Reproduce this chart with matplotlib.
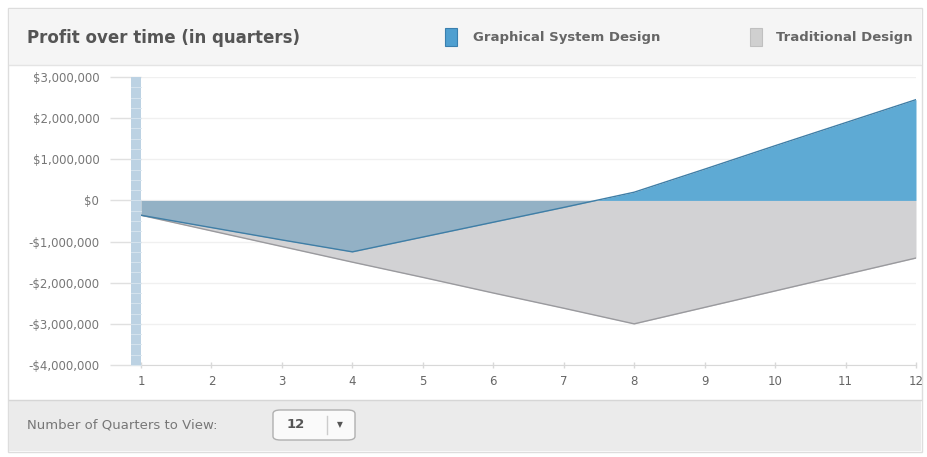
import numpy as np
import matplotlib.pyplot as plt
from matplotlib.patches import Rectangle, FancyBboxPatch

# data (dollars, per quarter)
quarters = [1, 2, 3, 4, 5, 6, 7, 8, 9, 10, 11, 12]
graphical = [-0.36e6, -0.66e6, -0.96e6, -1.25e6, -0.89e6, -0.53e6, -0.17e6,
             0.2e6, 0.76e6, 1.33e6, 1.89e6, 2.45e6]
traditional = [-0.36e6, -0.74e6, -1.12e6, -1.5e6, -1.87e6, -2.25e6, -2.62e6,
               -3.0e6, -2.6e6, -2.2e6, -1.8e6, -1.4e6]
y_ticks = [3e6, 2e6, 1e6, 0, -1e6, -2e6, -3e6, -4e6]
series_names = ["Graphical System Design", "Traditional Design"]
title = "Profit over time (in quarters)"

W, H = 927, 457


def fx(px):
    return px / W


def fy(py):
    return 1 - py / H


def money(v):
    s = "${:,.0f}".format(abs(v))
    return "-" + s if v < 0 else s


def main():
    fig = plt.figure(figsize=(W / 100, H / 100), dpi=100)
    fig.patch.set_facecolor("white")

    # outer frame, header and footer panels (behind the axes)
    fig.patches.append(Rectangle((fx(8), fy(452)), fx(914), fy(8) - fy(452),
                                 transform=fig.transFigure, facecolor="white",
                                 edgecolor="#dddddd", lw=1, zorder=-3))
    fig.patches.append(Rectangle((fx(9), fy(65)), fx(912), fy(9) - fy(65),
                                 transform=fig.transFigure, facecolor="#f5f5f5",
                                 edgecolor="none", zorder=-2))
    fig.patches.append(Rectangle((fx(9), fy(451)), fx(912), fy(400) - fy(451),
                                 transform=fig.transFigure, facecolor="#ebebeb",
                                 edgecolor="none", zorder=-2))
    fig.lines.append(plt.Line2D([fx(9), fx(921)], [fy(65), fy(65)],
                                transform=fig.transFigure, color="#e4e4e4", lw=1,
                                zorder=-1))
    fig.lines.append(plt.Line2D([fx(9), fx(921)], [fy(400), fy(400)],
                                transform=fig.transFigure, color="#d6d6d6", lw=1,
                                zorder=-1))

    # header title and legend
    fig.text(fx(27), fy(38), title, fontsize=12, fontweight="semibold",
             color="#555555", va="center", ha="left")
    fig.patches.append(Rectangle((fx(445), fy(46)), fx(12), fy(28) - fy(46),
                                 transform=fig.transFigure, facecolor="#4f9fd0",
                                 edgecolor="#3a7fae", lw=0.8))
    fig.text(fx(473), fy(37), series_names[0], fontsize=9.5, fontweight="bold",
             color="#666666", va="center", ha="left")
    fig.patches.append(Rectangle((fx(750), fy(46)), fx(12), fy(28) - fy(46),
                                 transform=fig.transFigure, facecolor="#d0d0d0",
                                 edgecolor="#c0c0c0", lw=0.8))
    fig.text(fx(776), fy(37), series_names[1], fontsize=9.5, fontweight="bold",
             color="#666666", va="center", ha="left")

    # footer controls
    fig.text(fx(27), fy(425), "Number of Quarters to View:", fontsize=9.5,
             color="#777777", va="center", ha="left")
    fig.patches.append(FancyBboxPatch((fx(273), fy(440)), fx(82), fy(410) - fy(440),
                                      boxstyle="round,pad=0,rounding_size=0.008",
                                      transform=fig.transFigure, facecolor="#fafafa",
                                      edgecolor="#b0b0b0", lw=1))
    fig.lines.append(plt.Line2D([fx(327), fx(327)], [fy(416), fy(434)],
                                transform=fig.transFigure, color="#cccccc", lw=1))
    fig.text(fx(296), fy(425), "12", fontsize=9.5, fontweight="bold",
             color="#555555", va="center", ha="center")
    fig.text(fx(340), fy(425), "\u25bc", fontsize=5.5, color="#555555",
             va="center", ha="center")

    # chart axes
    ax = fig.add_axes([fx(141), fy(365), fx(916) - fx(141), fy(77) - fy(365)])
    ax.set_xlim(1, 12)
    ax.set_ylim(-4e6, 3e6)
    ax.patch.set_alpha(0)

    q = np.array(quarters)
    g = np.array(graphical)
    t = np.array(traditional)

    ax.fill_between(q, 0, t, color="#d2d2d4", lw=0, zorder=2)
    ax.fill_between(q, 0, g, where=g <= 0, interpolate=True,
                    color="#93b1c5", lw=0, zorder=3)
    ax.fill_between(q, 0, g, where=g >= 0, interpolate=True,
                    color="#5eaad4", lw=0, zorder=3)
    ax.plot(q, t, color="#9a9a9e", lw=1, zorder=4)
    ax.plot(q, g, color="#3f7ea6", lw=1, zorder=5)

    ax.set_yticks(y_ticks)
    ax.set_yticklabels([money(v) for v in y_ticks])
    ax.set_xticks(quarters)
    ax.set_xticklabels([str(v) for v in quarters])
    ax.grid(axis="y", color="#f0f0f0", lw=1, zorder=0)
    for side in ["top", "right", "left"]:
        ax.spines[side].set_visible(False)
    ax.spines["bottom"].set_color("#d8d8d8")
    ax.tick_params(axis="y", length=22, width=1, color="#e0e0e0", pad=8,
                   labelsize=8.5, labelcolor="#777777")
    ax.tick_params(axis="x", length=4, width=1, color="#d8d8d8", pad=5,
                   labelsize=8.5, labelcolor="#666666", direction="inout")

    # segmented bar left of the first quarter
    trans = ax.get_yaxis_transform()
    bar_x0 = -10 / (916 - 141)
    ax.add_patch(Rectangle((bar_x0, -4e6), -bar_x0, 7e6, transform=trans,
                           facecolor="#bcd2e3", edgecolor="none", clip_on=False,
                           zorder=6))
    for yv in np.arange(-4e6, 3e6, 0.25e6):
        ax.plot([bar_x0, 0], [yv, yv], transform=trans, color="#d9e6ef",
                lw=0.6, clip_on=False, zorder=7)

    fig.savefig("out.png", dpi=100)


if __name__ == "__main__":
    main()
